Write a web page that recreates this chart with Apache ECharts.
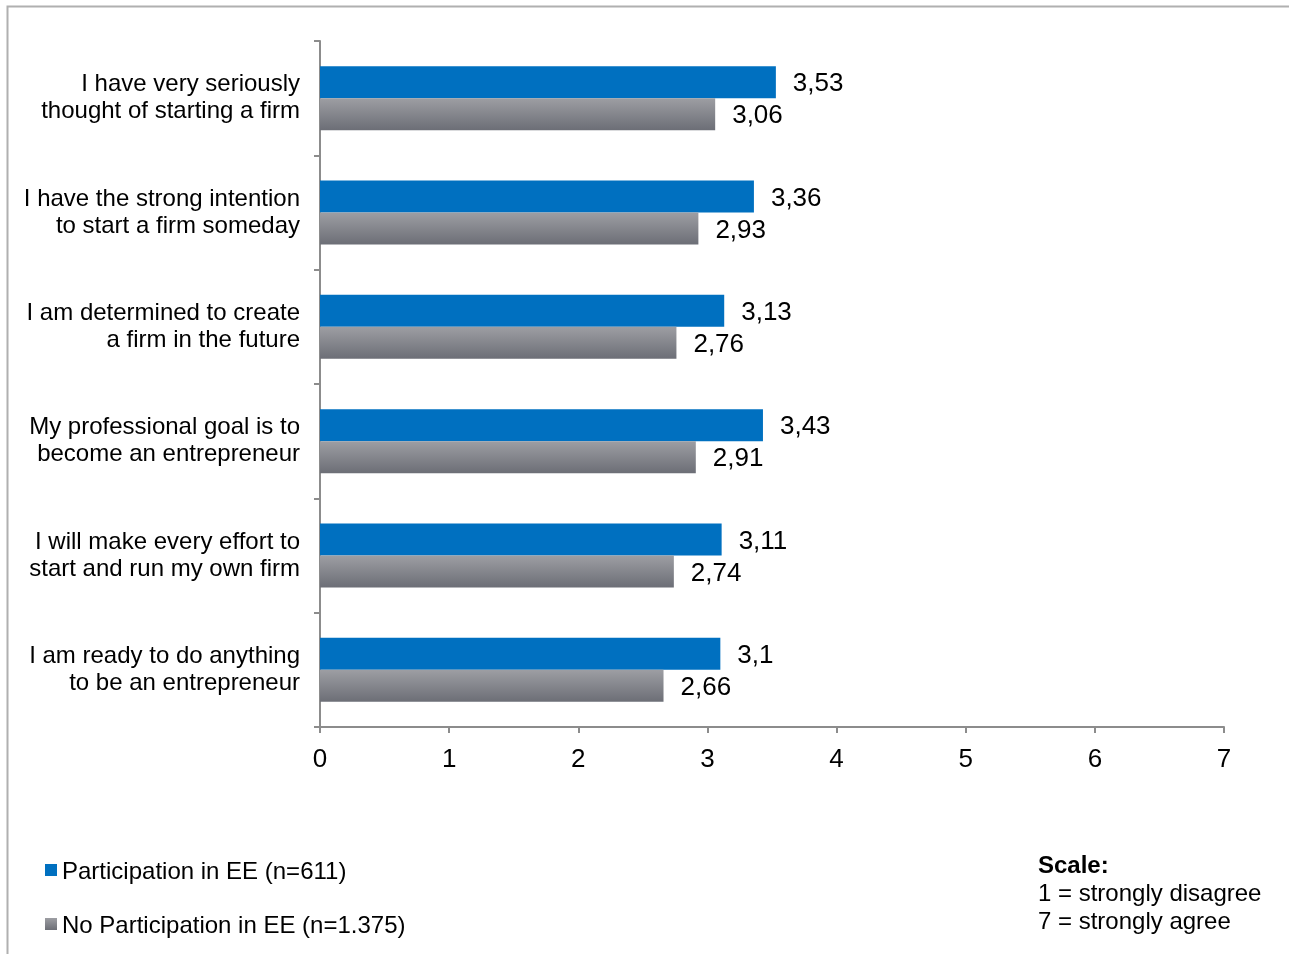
<!DOCTYPE html>
<html>
<head>
<meta charset="utf-8">
<script src="https://cdn.jsdelivr.net/npm/echarts@6/dist/echarts.min.js"></script>
<style>
  html, body { margin: 0; padding: 0; background: #ffffff; }
  #chart { width: 1289px; height: 954px; }
</style>
</head>
<body>
<div id="chart"></div>
<script>
// Entrepreneurial intention items, top to bottom
const categories = [
  'I have very seriously\nthought of starting a firm',
  'I have the strong intention\nto start a firm someday',
  'I am determined to create\na firm in the future',
  'My professional goal is to\nbecome an entrepreneur',
  'I will make every effort to\nstart and run my own firm',
  'I am ready to do anything\nto be an entrepreneur'
];
const seriesNames = ['Participation in EE (n=611)', 'No Participation in EE (n=1.375)'];
const participation = [3.53, 3.36, 3.13, 3.43, 3.11, 3.1];
const noParticipation = [3.06, 2.93, 2.76, 2.91, 2.74, 2.66];
const xTicks = [0, 1, 2, 3, 4, 5, 6, 7];
const scaleNote = ['Scale:', '1 = strongly disagree', '7 = strongly agree'];

const FONT = '"Liberation Sans", Arial, sans-serif';
const BLUE = '#0070c0';
const GREY = {
  type: 'linear', x: 0, y: 0, x2: 0, y2: 1,
  colorStops: [{ offset: 0, color: '#9d9ea3' }, { offset: 1, color: '#6c6e76' }]
};

const commaFmt = p => String(p.value).replace('.', ',');

const chart = echarts.init(document.getElementById('chart'), null, { renderer: 'canvas' });

chart.setOption({
  backgroundColor: '#ffffff',
  animation: false,
  grid: { left: 320, right: 65, top: 41, bottom: 227, containLabel: false },
  xAxis: {
    type: 'value',
    min: xTicks[0],
    max: xTicks[xTicks.length - 1],
    interval: 1,
    axisLine: { show: true, lineStyle: { color: '#8c8c8c', width: 2 } },
    axisTick: { show: true, length: 6, lineStyle: { color: '#8c8c8c', width: 2 } },
    axisLabel: { color: '#000', fontFamily: FONT, fontSize: 26, margin: 20 },
    splitLine: { show: false }
  },
  yAxis: {
    type: 'category',
    data: categories,
    inverse: true,
    axisLine: { show: true, lineStyle: { color: '#8c8c8c', width: 2 } },
    axisTick: { show: true, length: 6, lineStyle: { color: '#8c8c8c', width: 2 } },
    axisLabel: {
      color: '#000', fontFamily: FONT, fontSize: 24, lineHeight: 27,
      align: 'right', margin: 20
    }
  },
  legend: { show: false },
  series: [
    {
      name: seriesNames[0],
      type: 'bar',
      data: participation,
      barWidth: 32,
      barGap: '0%',
      itemStyle: { color: BLUE },
      label: {
        show: true, position: 'right', distance: 17, offset: [0, 2],
        color: '#000', fontFamily: FONT, fontSize: 26, formatter: commaFmt
      }
    },
    {
      name: seriesNames[1],
      type: 'bar',
      data: noParticipation,
      barWidth: 32,
      barGap: '0%',
      itemStyle: { color: GREY },
      label: {
        show: true, position: 'right', distance: 17, offset: [0, 2],
        color: '#000', fontFamily: FONT, fontSize: 26, formatter: commaFmt
      }
    }
  ],
  graphic: [
    // outer frame (top and left edges)
    { type: 'polyline', shape: { points: [[7.5, 954], [7.5, 6.5], [1289, 6.5]] },
      style: { stroke: '#b0b0b0', lineWidth: 2, fill: null } },
    // legend
    { type: 'rect', shape: { x: 45, y: 864, width: 12, height: 12 }, style: { fill: BLUE } },
    { type: 'text', left: 62, top: 860, style: { text: seriesNames[0], fill: '#000', font: '24px ' + FONT } },
    { type: 'rect', shape: { x: 45, y: 918, width: 12, height: 12 }, style: { fill: GREY } },
    { type: 'text', left: 62, top: 914, style: { text: seriesNames[1], fill: '#000', font: '24px ' + FONT } },
    // scale note
    { type: 'text', left: 1038, top: 854, style: { text: scaleNote[0], fill: '#000', font: 'bold 24px ' + FONT } },
    { type: 'text', left: 1038, top: 882, style: { text: scaleNote[1], fill: '#000', font: '24px ' + FONT } },
    { type: 'text', left: 1038, top: 910, style: { text: scaleNote[2], fill: '#000', font: '24px ' + FONT } }
  ]
});
</script>
</body>
</html>
